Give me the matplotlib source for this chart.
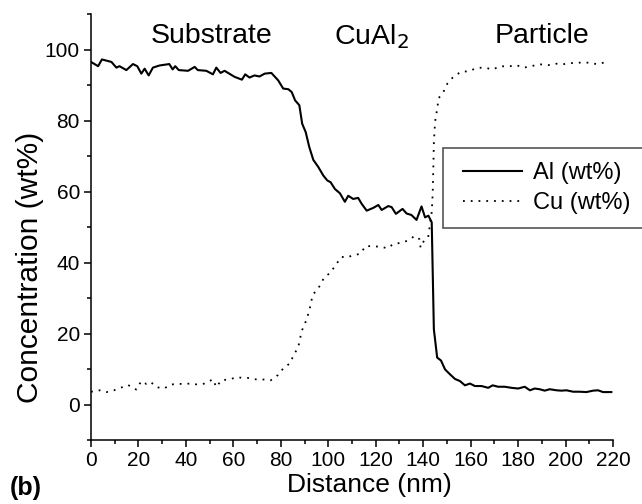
import matplotlib
matplotlib.use("Agg")
import matplotlib.pyplot as plt
from matplotlib.ticker import MultipleLocator
from matplotlib.patches import Rectangle

plt.rcParams['font.family'] = ['Liberation Sans', 'DejaVu Sans']

# Al (wt%) profile
al_x = [0, 3, 4.6, 8.6, 10.7, 12, 14.9, 17.7, 19.5, 21.2, 22.6, 24.3, 26.1, 28.9, 33, 34.4,
        35.5, 37, 40.9, 43.7, 45, 48.6, 51.4, 52.8, 54.6, 56.3, 60.5, 63.6, 65, 66.8, 68.9,
        71, 73.2, 76, 78.9, 81, 83.2, 84.6, 86, 87.8, 89, 90.5, 92, 93.7, 95.8, 97.9, 99.6,
        101, 102.8, 104.9, 107, 108.4, 110.5, 112.6, 114.1, 116.2, 119, 121.1, 122.5, 125.3,
        126.7, 128.5, 131.3, 133, 135, 137.2, 139.3, 140.8, 142.2, 143.6, 144.5, 145.9, 147.5,
        149.2, 151.3, 153.4, 155.5, 157.6, 159.7, 161.8, 164.6, 167.4, 169.3, 171.6, 174.4,
        177.2, 180, 182.8, 185, 187, 189.1, 191.2, 193.3, 196.2, 198.3, 200.4, 203.2, 206,
        208.8, 211.6, 213.7, 215.8, 219.3]
al_y = [96.5, 95.3, 97.2, 96.5, 94.9, 95.3, 94.2, 95.9, 95.3, 93.2, 94.6, 92.7, 94.9, 95.5, 95.9, 94.4,
        95.3, 94.2, 94.0, 95.1, 94.2, 94.0, 93.0, 94.9, 93.4, 94.0, 92.3, 91.5, 93.0, 92.1, 92.7,
        92.4, 93.2, 93.4, 91.3, 89.0, 88.8, 88.0, 85.7, 84.3, 79.1, 76.7, 72.5, 68.9, 66.9, 64.5, 63.1,
        62.6, 60.7, 59.5, 57.1, 58.8, 57.9, 58.2, 56.5, 54.6, 55.4, 56.2, 54.8, 55.9,
        55.6, 53.7, 55.1, 53.8, 53.4, 52.0, 55.8, 52.7, 53.2, 51.3, 21.2, 13.2, 12.4,
        9.9, 8.5, 7.2, 6.6, 5.4, 5.9, 5.2, 5.2, 4.7, 5.4, 5.0, 5.0,
        4.7, 4.5, 5.0, 4.0, 4.5, 4.3, 3.9, 4.3, 4.0, 3.9, 4.0, 3.6, 3.6,
        3.5, 3.9, 4.0, 3.5, 3.5]

# Cu (wt%) profile
cu_x = [0, 3.7, 6.5, 9.7, 12.5, 15.6, 19.1, 21.2, 23.3, 25.1, 27.5, 30.8, 33.6, 35.9, 38.7,
        42.3, 45, 47.9, 51.4, 52.8, 54.9, 58.4, 61.6, 63.6, 65.9, 69, 71.8, 75.7, 78.8, 81.3,
        83.9, 85.5, 87.3, 88.8, 90.6, 92, 93.4, 96.2, 98.3, 101, 103.2, 105.6, 107.7, 110.8,
        113.3, 115.9, 118.7, 121.8, 124.9, 127.4, 130.2, 133.3, 136.5, 138.4, 138.9, 140.3,
        142.1, 143.6, 144, 144.3, 144.5, 145, 145.3, 146, 146.4, 148.5, 150.2, 152.7, 155.9,
        159.4, 162.5, 165.7, 169.3, 172.6, 175.9, 179.1, 182.6, 186.1, 189.6, 192.7, 196.2,
        199.5, 203, 206.4, 209.7, 213, 216.2]
cu_y = [3.6, 4.0, 3.5, 4.0, 4.7, 5.5, 4.2, 6.6, 5.8, 6.4, 4.9, 4.5, 5.6, 5.8, 5.8,
        5.9, 5.6, 5.9, 7.1, 4.9, 6.8, 7.1, 7.7, 7.5, 7.5, 7.1, 7.1, 6.8, 8.3, 10.4,
        11.6, 14.1, 16.0, 20.7, 23.5, 26.4, 30.8, 33.2, 35.8, 37.2, 39.4, 41.6, 41.4, 42.1,
        42.4, 44.7, 44.5, 44.5, 44.0, 45.2, 45.5, 46.1, 47.5, 46.6, 44.2, 46.1,
        47.1, 54.2, 59.3, 67.3, 73.7, 79.5, 81.0, 83.5, 86.2, 88.0, 90.4, 92.3, 93.7,
        93.9, 94.8, 94.9, 94.4, 95.3, 95.2, 95.6, 94.9, 95.4, 95.8, 95.6, 96.0,
        95.9, 96.2, 96.3, 96.3, 95.9, 96.3]

region_labels = ["Substrate", "CuAl$_2$", "Particle"]
region_x = [51, 118, 190]

fig = plt.figure(figsize=(6.42, 5.04), dpi=100)
ax = fig.add_axes([91/642, 1-440/504, (613-91)/642, (440-14)/504])

ax.plot(al_x, al_y, color='black', lw=1.5, label='Al (wt%)')
ax.plot(cu_x, cu_y, color='black', lw=1.3, linestyle=(0, (1, 3.3)), label='Cu (wt%)')

ax.set_xlim(0, 220)
ax.set_ylim(-10, 110)
ax.xaxis.set_major_locator(MultipleLocator(20))
ax.xaxis.set_minor_locator(MultipleLocator(10))
ax.yaxis.set_major_locator(MultipleLocator(20))
ax.yaxis.set_minor_locator(MultipleLocator(10))
ax.set_yticks([0, 20, 40, 60, 80, 100])
for s in ['top', 'right']:
    ax.spines[s].set_visible(False)
for s in ['left', 'bottom']:
    ax.spines[s].set_linewidth(1.1)
ax.tick_params(which='major', direction='out', length=5, width=1.1, labelsize=15, pad=3)
ax.tick_params(which='minor', direction='out', length=3, width=1.1)

ax.set_xlabel('Distance (nm)', fontsize=19)
ax.xaxis.set_label_coords(0.533, -0.077)
ax.set_ylabel('Concentration (wt%)', fontsize=21.5)
ax.yaxis.set_label_coords(-0.09, 0.406)

for lab, xv in zip(region_labels, region_x):
    ax.text(xv, 103.7, lab, ha='center', va='center', fontsize=20.5)

# legend frame (extends past the right edge like the reference)
frame = Rectangle((443/642, 1-228/504), 220/642, 80/504, transform=fig.transFigure,
                  facecolor='white', edgecolor='#555555', lw=1.2, zorder=4, clip_on=False)
ax.add_artist(frame)
leg = ax.legend(loc='center left', bbox_to_anchor=(463/642, 1-188/504),
                bbox_transform=fig.transFigure, borderaxespad=0, borderpad=0, frameon=False,
                fontsize=17, handlelength=2.5, handletextpad=0.45, labelspacing=0.35)
leg.set_zorder(6)

fig.text(10/642, 1-488/504, '(b)', fontsize=18, fontweight='bold', ha='left', va='center')

fig.savefig('out.png', dpi=100)
